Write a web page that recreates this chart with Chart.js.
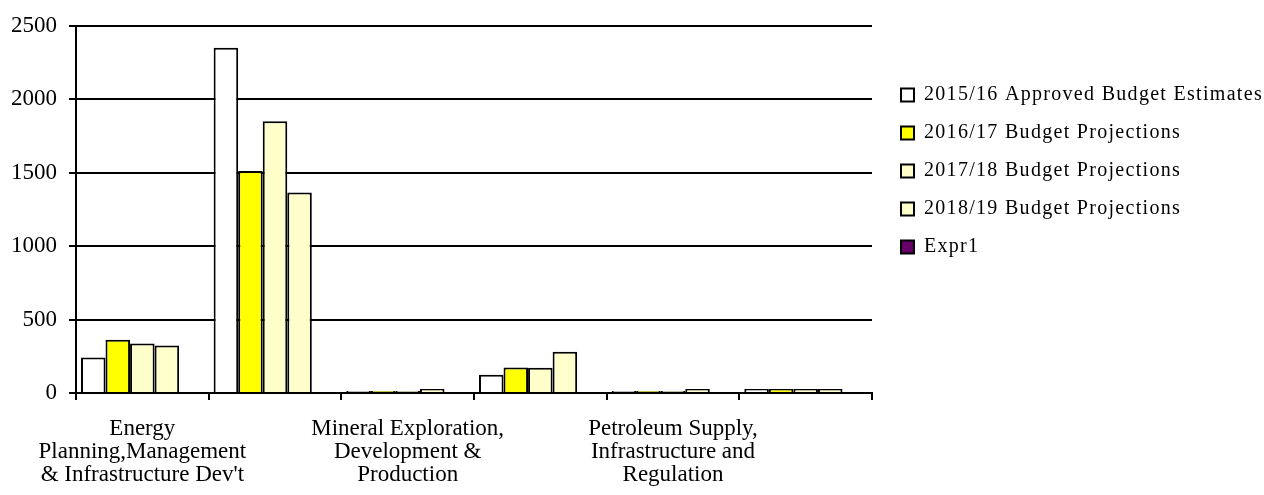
<!DOCTYPE html>
<html>
<head>
<meta charset="utf-8">
<script src="https://cdn.jsdelivr.net/npm/chart.js@4"></script>
<style>
  html, body { margin: 0; padding: 0; background: #fff; }
  #wrap { width: 1264px; height: 495px; }
</style>
</head>
<body>
<div id="wrap"><canvas id="budgetChart"></canvas></div>
<script>
// programme names (only every other one is printed on the axis)
const categories = [
  ['Energy', 'Planning,Management', "& Infrastructure Dev't"],
  ['Large Hydro Power', 'Infrastructure'],
  ['Mineral Exploration,', 'Development &', 'Production'],
  ['Petroleum Exploration,', 'Development &', 'Production'],
  ['Petroleum Supply,', 'Infrastructure and', 'Regulation'],
  ['Policy, Planning and', 'Support Services']
];
const seriesNames = [
  '2015/16 Approved Budget Estimates',
  '2016/17 Budget Projections',
  '2017/18 Budget Projections',
  '2018/19 Budget Projections',
  'Expr1'
];
const approved1516 = [242, 2351, 14, 124, 14, 28];
const proj1617 = [362, 1511, 14, 174, 14, 28];
const proj1718 = [337, 1851, 14, 172, 14, 28];
const proj1819 = [323, 1365, 28, 281, 28, 28];
const expr1 = [0, 0, 0, 0, 0, 0];
const yTicks = [0, 500, 1000, 1500, 2000, 2500];

const colors = ['#FFFFFF', '#FFFF00', '#FFFFCC', '#FFFFCC', '#660066'];
const seriesData = [approved1516, proj1617, proj1718, proj1819, expr1];

const serif = 'Liberation Serif';

// legend sits right of the plot, a bit indented and letter-spaced like the original
const legendTweak = {
  id: 'legendTweak',
  afterInit: function(chart) {
    const lg = chart.legend;
    const fit = lg.fit;
    lg.fit = function() {
      fit.call(this);
      this.width = 392;
    };
    const draw = lg.draw;
    lg.draw = function() {
      const c = this.ctx;
      c.save();
      c.translate(11, -1);
      c.letterSpacing = '1.3px';
      draw.apply(this, arguments);
      c.restore();
    };
  }
};

const ctx = document.getElementById('budgetChart').getContext('2d');
const budgetChart = new Chart(ctx, {
  type: 'bar',
  data: {
    labels: categories,
    datasets: seriesData.map(function(d, i) {
      return {
        label: seriesNames[i],
        data: d,
        backgroundColor: colors[i],
        borderColor: '#000',
        borderWidth: 2,
        categoryPercentage: 0.925,
        barPercentage: 1.0
      };
    })
  },
  plugins: [legendTweak],
  options: {
    responsive: true,
    maintainAspectRatio: false,
    animation: false,
    layout: {
      padding: { top: 25, right: 0, left: 0, bottom: 0 }
    },
    plugins: {
      tooltip: { enabled: false },
      legend: {
        display: true,
        position: 'right',
        align: 'start',
        title: {
          display: true,
          text: ' ',
          font: { family: serif, size: 10, lineHeight: 1 },
          padding: { top: 0, bottom: 33 }
        },
        labels: {
          color: '#000',
          boxWidth: 13,
          boxHeight: 13,
          padding: 18,
          font: { family: serif, size: 20 }
        }
      }
    },
    scales: {
      x: {
        grid: {
          display: true,
          drawOnChartArea: false,
          drawTicks: true,
          tickLength: 7,
          color: '#000',
          lineWidth: 2,
          offset: true
        },
        border: { display: true, color: '#000', width: 2 },
        ticks: {
          autoSkip: false,
          maxRotation: 0,
          minRotation: 0,
          padding: 17.5,
          color: '#000',
          font: { family: serif, size: 23, lineHeight: 1 },
          callback: function(value, index) {
            return index % 2 === 0 ? categories[index] : '';
          }
        },
        afterFit: function(scale) { scale.height = 102; }
      },
      y: {
        min: 0,
        max: 2500,
        grid: {
          color: '#000',
          lineWidth: 2,
          drawTicks: true,
          tickLength: 7
        },
        border: { display: true, color: '#000', width: 2 },
        ticks: {
          padding: 12,
          color: '#000',
          font: { family: serif, size: 23 },
          callback: function(value) { return String(value); }
        },
        afterBuildTicks: function(scale) {
          scale.ticks = yTicks.map(function(v) { return { value: v }; });
        },
        afterFit: function(scale) { scale.width = 76; }
      }
    }
  }
});
</script>
</body>
</html>
